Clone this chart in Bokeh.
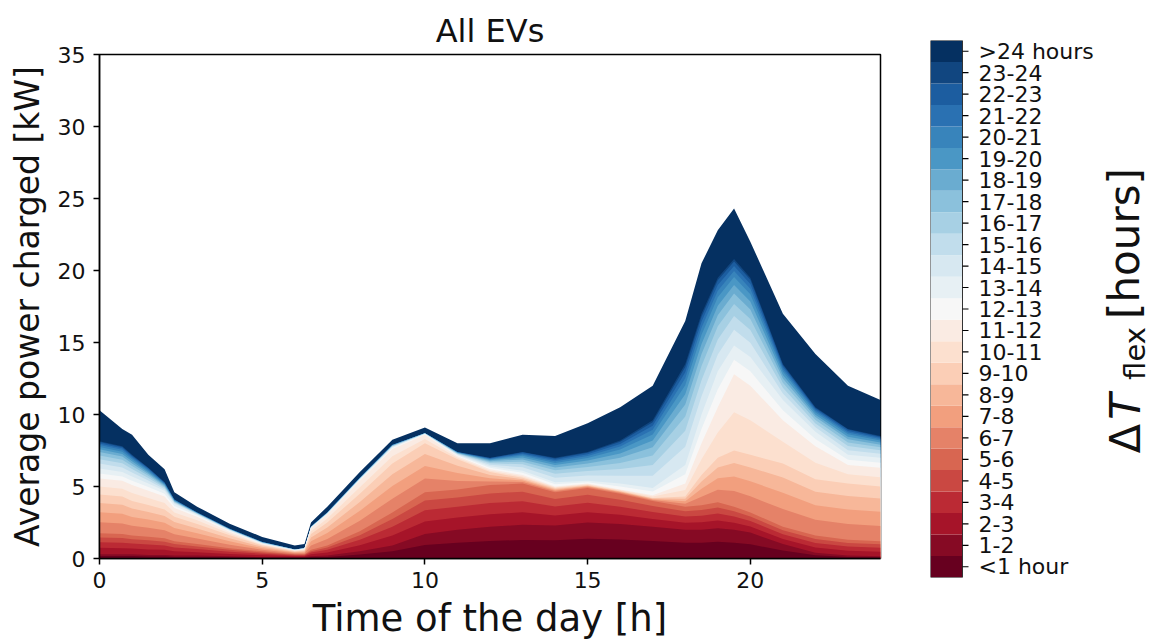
import math
from bokeh.plotting import figure
from bokeh.models import FixedTicker, ColumnDataSource
from bokeh.layouts import row
from bokeh.transform import stack
from bokeh.core.properties import value
from bokeh.embed import file_html
from bokeh.resources import INLINE

# ---------------- data ----------------
time_h = [0, 0.7, 1, 1.5, 2, 2.3, 3, 4, 5, 6,
          6.3, 6.5, 7, 8, 9, 10, 11, 12, 13, 14,
          15, 16, 17, 18, 18.5, 19, 19.5, 20, 21, 22,
          23, 24]

categories = ["<1 hour", "1-2", "2-3", "3-4", "4-5", "5-6", "6-7", "7-8", "8-9",
              "9-10", "10-11", "11-12", "12-13", "13-14", "14-15", "15-16",
              "16-17", "17-18", "18-19", "19-20", "20-21", "21-22", "22-23",
              "23-24", ">24 hours"]

# average power per flexibility class [kW] (stacked layers)
h00_01 = [.17, .17, .17, .14, .14, .11, .11, .08, .06, .06, .06, .08, .11, .28, .5, .94, 1.1, 1.21, 1.29, 1.27, 1.38, 1.32, 1.21, 1.1, 1.1, 1.16, 1.1, .99, .55, .22, .11, .08]
h01_02 = [.13, .13, .13, .11, .11, .09, .09, .07, .04, .04, .04, .07, .09, .22, .4, .76, .9, .99, 1.06, 1.03, 1.12, 1.08, .99, .9, .9, .94, .9, .81, .45, .18, .09, .07]
h02_03 = [.44, .42, .39, .38, .35, .3, .24, .17, .12, .06, .06, .14, .21, .42, .69, .87, .84, .87, .86, .69, .72, .63, .54, .48, .51, .54, .48, .42, .36, .36, .33, .32]
h03_04 = [.39, .38, .35, .34, .31, .27, .22, .15, .11, .05, .05, .12, .19, .38, .62, .78, .76, .78, .77, .62, .65, .57, .49, .43, .46, .49, .43, .38, .32, .32, .30, .28]
h04_05 = [.33, .32, .30, .29, .26, .23, .18, .13, .09, .05, .05, .10, .16, .32, .53, .67, .64, .67, .66, .53, .55, .48, .41, .37, .39, .41, .37, .32, .28, .28, .25, .24]
h05_06 = [.29, .28, .26, .25, .23, .2, .16, .11, .08, .04, .04, .09, .14, .28, .46, .58, .56, .58, .56, .46, .48, .42, .36, .32, .34, .36, .32, .28, .24, .24, .22, .21]
h06_07 = [.76, .73, .67, .62, .56, .48, .39, .25, .11, .06, .07, .31, .45, .73, .95, .95, .59, .25, .11, .08, .06, .06, .06, .20, .59, .87, 1.09, 1.12, 1.23, 1.09, 1.09, 1.06]
h07_08 = [.70, .68, .62, .57, .52, .44, .36, .23, .10, .05, .07, .29, .42, .68, .88, .88, .55, .23, .10, .08, .05, .05, .05, .18, .55, .81, 1.01, 1.04, 1.14, 1.01, 1.01, .99]
h08_09 = [.65, .62, .58, .53, .48, .41, .34, .22, .10, .05, .06, .26, .38, .62, .82, .82, .50, .22, .10, .07, .05, .05, .05, .17, .50, .74, .94, .96, 1.06, .94, .94, .91]
h09_10 = [.59, .57, .53, .48, .44, .37, .31, .20, .09, .04, .05, .24, .35, .57, .75, .75, .46, .20, .09, .07, .04, .04, .04, .15, .46, .68, .86, .88, .97, .86, .86, .84]
h10_11 = [.55, .55, .55, .5, .45, .3, .25, .13, .05, .03, .05, .2, .28, .45, .5, .3, .1, .1, .1, .05, .05, .05, .1, .45, 1.1, 1.75, 2.65, 2.4, 1.5, 1.15, .65, .65]
h11_12 = [.55, .55, .55, .5, .45, .3, .25, .12, .05, .02, .05, .2, .27, .45, .5, .3, .1, .1, .1, .05, .05, .05, .1, .45, 1.1, 1.75, 2.65, 2.4, 1.5, 1.15, .65, .65]
h12_13 = [.35, .3, .3, .25, .2, .15, .08, .05, .03, .02, .02, .03, .03, .05, .08, .03, .05, .1, .15, .15, .1, .2, .25, .65, 1.0, 1.25, 1.0, 1.0, .7, .5, .35, .35]
h13_14 = [.35, .3, .3, .25, .2, .15, .07, .05, .02, .01, .01, .02, .02, .05, .07, .02, .05, .1, .15, .15, .1, .2, .25, .65, 1.0, 1.25, 1.0, 1.0, .7, .5, .35, .35]
h14_15 = [.34, .32, .27, .20, .11, .05, .03, .02, .02, .01, .01, .01, .02, .02, .03, .01, .04, .11, .23, .31, .36, .54, .85, 1.26, 1.26, 1.17, 1.08, .99, .45, .31, .32, .27]
h15_16 = [.30, .29, .24, .18, .10, .05, .02, .02, .02, .01, .01, .01, .02, .02, .02, .01, .03, .10, .21, .27, .32, .48, .75, 1.12, 1.12, 1.04, .96, .88, .4, .27, .29, .24]
h16_17 = [.27, .25, .21, .15, .08, .04, .02, .01, .01, .01, .01, .01, .01, .01, .02, .01, .03, .08, .18, .24, .28, .42, .66, .98, .98, .91, .84, .77, .35, .24, .25, .21]
h17_18 = [.23, .22, .18, .13, .07, .04, .02, .01, .01, .01, .01, .01, .01, .01, .02, .01, .02, .07, .16, .20, .24, .36, .56, .84, .84, .78, .72, .66, .3, .20, .22, .18]
h18_19 = [.19, .18, .15, .11, .06, .03, .02, .01, .01, 0, 0, .01, .01, .01, .02, .01, .02, .06, .13, .17, .2, .3, .47, .7, .7, .65, .6, .55, .25, .17, .18, .15]
h19_20 = [.17, .16, .14, .10, .05, .03, .01, .01, .01, 0, 0, 0, .01, .01, .01, 0, .02, .05, .12, .15, .18, .27, .42, .63, .63, .59, .54, .50, .23, .15, .16, .14]
h20_21 = [.13, .13, .10, .08, .04, .02, .01, .01, .01, 0, 0, 0, .01, .01, .01, 0, .01, .04, .09, .12, .14, .21, .33, .49, .49, .46, .42, .39, .18, .12, .13, .10]
h21_22 = [.11, .11, .09, .07, .04, .02, .01, .01, .01, 0, 0, 0, .01, .01, .01, 0, .01, .04, .08, .10, .12, .18, .28, .42, .42, .39, .36, .33, .15, .10, .11, .09]
h22_23 = [.10, .09, .08, .05, .03, .01, .01, 0, 0, 0, 0, 0, 0, 0, .01, 0, .01, .03, .07, .09, .10, .15, .24, .35, .35, .33, .30, .28, .13, .09, .09, .08]
h23_24 = [.06, .05, .04, .03, .02, .01, 0, 0, 0, 0, 0, 0, 0, 0, 0, 0, .01, .02, .03, .05, .06, .09, .14, .21, .21, .18, .18, .15, .06, .05, .05, .04]
h24_plus = [2.15, 1.2, 1.4, .9, .9, .5, .4, .35, .35, .28, .28, .3, .4, .4, .35, .4, .6, 1.0, 1.2, 1.5, 2.0, 2.3, 2.4, 3.0, 3.5, 3.3, 3.5, 2.5, 3.5, 3.7, 3.0, 2.5]

series = [h00_01, h01_02, h02_03, h03_04, h04_05, h05_06, h06_07, h07_08, h08_09,
          h09_10, h10_11, h11_12, h12_13, h13_14, h14_15, h15_16, h16_17, h17_18,
          h18_19, h19_20, h20_21, h21_22, h22_23, h23_24, h24_plus]

y_ticks = [0, 5, 10, 15, 20, 25, 30, 35]
x_ticks = [0, 5, 10, 15, 20]

# colour-bar title pieces: Delta T_flex [hours]
cbar_title = ["\u0394", "T", "flex", "[hours]"]

# ---------------- colours: RdBu sampled into 25 classes ----------------
_rdbu = [(103, 0, 31), (178, 24, 43), (214, 96, 77), (244, 165, 130), (253, 219, 199),
         (247, 247, 247), (209, 229, 240), (146, 197, 222), (67, 147, 195),
         (33, 102, 172), (5, 48, 97)]


def _cmap(f):
    pos = f * (len(_rdbu) - 1)
    i = min(int(math.floor(pos)), len(_rdbu) - 2)
    w = pos - i
    c = [round(_rdbu[i][k] * (1 - w) + _rdbu[i + 1][k] * w) for k in range(3)]
    return "#%02x%02x%02x" % tuple(c)


n_cls = len(categories)
colors = [_cmap(i / (n_cls - 1)) for i in range(n_cls)]

FONT = "DejaVu Sans"
TXT = "#111111"

# ---------------- main plot ----------------
data = {"t": time_h}
names = []
for i, s in enumerate(series):
    data["c%d" % i] = s
    names.append("c%d" % i)
src = ColumnDataSource(data)

p = figure(frame_width=781, frame_height=504, x_range=(0, 24), y_range=(0, 35),
           toolbar_location=None, output_backend="svg",
           min_border_left=99, min_border_right=28, min_border_top=54, min_border_bottom=80)

for i in reversed(range(n_cls)):
    p.varea(x="t", y1=0, y2=stack(*names[:i + 1]), source=src, fill_color=colors[i])

p.title.text = "All EVs"
p.title.align = "center"
p.title.text_font = FONT
p.title.text_font_size = "32px"
p.title.text_font_style = "normal"
p.title.text_color = TXT

p.xaxis.ticker = FixedTicker(ticks=x_ticks)
p.yaxis.ticker = FixedTicker(ticks=y_ticks)
p.xaxis.axis_label = "Time of the day [h]"
p.yaxis.axis_label = "Average power charged [kW]"
for ax in (p.xaxis, p.yaxis):
    ax.axis_label_text_font = FONT
    ax.axis_label_text_font_style = "normal"
    ax.axis_label_text_color = TXT
    ax.major_label_text_font = FONT
    ax.major_label_text_font_size = "22px"
    ax.major_label_text_color = TXT
    ax.minor_tick_line_color = None
    ax.major_tick_in = 0
    ax.major_tick_out = 6
    ax.major_tick_line_width = 1.5
    ax.axis_line_width = 1.5
    ax.axis_line_color = "black"
p.xaxis.axis_label_text_font_size = "37px"
p.yaxis.axis_label_text_font_size = "33px"
p.xaxis.major_label_standoff = 7
p.xaxis.axis_label_standoff = 6
p.yaxis.major_label_standoff = 8
p.yaxis.axis_label_standoff = 8
p.grid.visible = False
p.outline_line_color = "black"
p.outline_line_width = 1.5
p.outline_line_alpha = 1

# ---------------- colour bar with its labels (pixel-unit x range) ----------------
CBW = 222            # frame width in px; bar occupies x 0..32
cb = figure(frame_width=CBW, frame_height=537, x_range=(0, CBW), y_range=(0, n_cls),
            toolbar_location=None, output_backend="svg", title=None,
            x_axis_location=None, y_axis_location=None,
            min_border_left=22, min_border_right=0, min_border_top=40, min_border_bottom=61)
cb.outline_line_color = None
cb.grid.visible = False
# the row aligns plot frames; lift the colour bar so it starts above the main frame
cb.margin = (-14, 0, 0, 0)

mid = [i + 0.5 for i in range(n_cls)]
cb.quad(left=0, right=32, bottom=list(range(n_cls)), top=list(range(1, n_cls + 1)),
        fill_color=colors, line_color=None)
cb.quad(left=0, right=32, bottom=0, top=n_cls, fill_color=None,
        line_color="#333333", line_width=1)
cb.segment(x0=32, x1=38, y0=mid, y1=mid, line_color="black", line_width=1.2)
cb.text(x=48, y=mid, text=categories, text_align="left", text_baseline="middle",
        text_font=value(FONT), text_font_size="22px", text_color=TXT)

# rotated title, reading upwards; centres of each piece (screen y -> bar units)
sc = n_cls / 537.0
tx = [194, 194, 204, 194]
ty = [(577 - 438) * sc, (577 - 406) * sc, (577 - 353) * sc, (577 - 243) * sc]
styles = [("43px", "normal"), ("43px", "italic"), ("29px", "normal"), ("42px", "normal")]
for k in range(len(cbar_title)):
    cb.text(x=[tx[k]], y=[ty[k]], text=[cbar_title[k]], angle=math.pi / 2,
            text_align="center", text_baseline="middle",
            text_font=value(FONT), text_font_size=styles[k][0],
            text_font_style=styles[k][1], text_color=TXT)

layout = row(p, cb)
open("out.html", "w").write(file_html(layout, INLINE))
